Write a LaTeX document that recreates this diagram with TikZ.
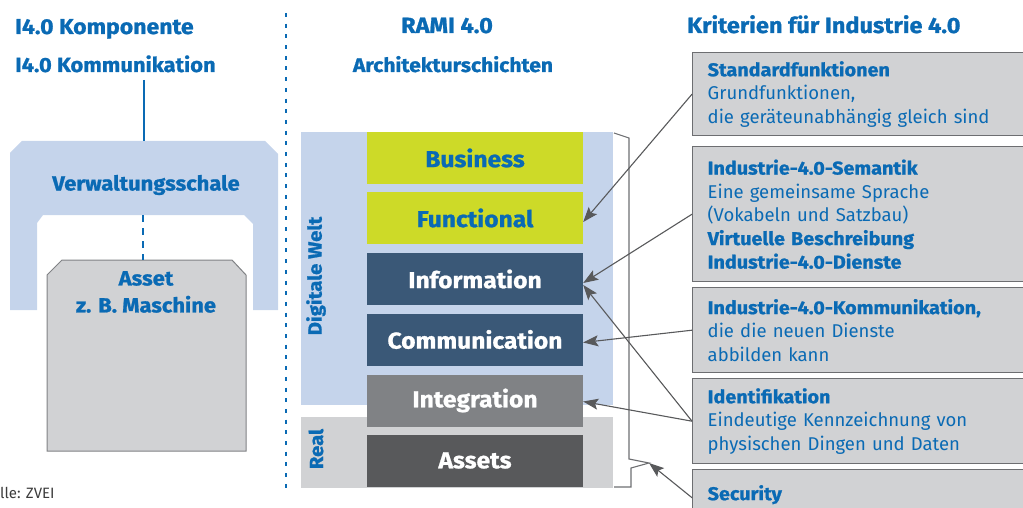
\documentclass[tikz,border=0pt]{standalone}
\usepackage{fontspec}
\setmainfont{Fira Sans}[BoldFeatures={FakeStretch=1.07,FakeBold=1}]
\usetikzlibrary{arrows.meta,calc}
\definecolor{ibl}{HTML}{0A6AB4}
\definecolor{lblue}{HTML}{C5D4EB}
\definecolor{lgray}{HTML}{D1D2D4}
\definecolor{ygreen}{HTML}{CDDA28}
\definecolor{slate}{HTML}{3A5877}
\definecolor{mgray}{HTML}{808285}
\definecolor{dgray}{HTML}{58595B}
\definecolor{bgray}{HTML}{6D6E71}
\definecolor{txtgray}{HTML}{3C3C3C}
\begin{document}
\begin{tikzpicture}[x=1pt,y=-1pt,
  title/.style={font=\fontsize{21}{25}\selectfont\bfseries, text=ibl, inner sep=0pt},
  layer/.style={rectangle, minimum width=216pt, minimum height=52pt, inner sep=0pt,
    font=\fontsize{23}{27}\selectfont\bfseries},
  crit/.style={rectangle, draw=bgray, line width=1.4pt, fill=lgray, anchor=north west,
    inner xsep=15pt, inner ysep=0pt, text width=330pt, align=left,
    font=\fontsize{18.5}{23.5}\selectfont, text=ibl},
  arr/.style={draw=dgray, line width=1.1pt, -{Stealth[length=15pt,width=11pt,inset=3pt]}},
  side/.style={font=\fontsize{19}{22}\selectfont\bfseries, text=ibl, rotate=90, inner sep=0pt}
]
\useasboundingbox (0,0) rectangle (1023,508);

% ---------- left column
\node[title, anchor=base west, font=\fontsize{21.5}{25}\selectfont\bfseries] (t1) at (15,34) {I4.0 Komponente};
\node[title, anchor=base west, font=\fontsize{20.5}{24}\selectfont\bfseries] (t2) at (15,72) {I4.0 Kommunikation};

\fill[lblue] (10,153) -- (22,141) -- (265,141) -- (278,154) -- (278,310) -- (253,310)
  -- (253,224) -- (244,215) -- (43,215) -- (37,223) -- (37,310) -- (10,310) -- cycle;
\coordinate (kt) at (144,80);
\coordinate (st) at (144,141);
\coordinate (si) at (143,215);
\draw[ibl, line width=2.6pt] (kt) -- (st);
\node[title, font=\fontsize{20.5}{26}\selectfont\bfseries] (vws) at (146,185) {Verwaltungsschale};

\filldraw[fill=lgray, draw=mgray, line width=1pt] (47,275) -- (62,260) -- (232,260) -- (246,275)
  -- (246,451) -- (47,451) -- cycle;
\coordinate (at) at (143,260);
\draw[ibl, line width=2.6pt, dash pattern=on 7pt off 6pt] (si) -- (at);
\node[title, align=center, font=\fontsize{20.5}{27}\selectfont\bfseries] (assettxt) at (146,292) {Asset\\z. B. Maschine};

\node[anchor=base west, inner sep=0pt, text=txtgray, font=\fontsize{15}{18}\selectfont] (src) at (0,498) {lle: ZVEI};

% divider
\draw[ibl, line width=2pt, dash pattern=on 4pt off 6.7pt] (286,13) -- (286,490);

% ---------- middle column
\node[title, anchor=base, font=\fontsize{22}{25}\selectfont\bfseries] (rami) at (447,33) {RAMI 4.0};
\node[title, anchor=base, font=\fontsize{19.7}{25}\selectfont\bfseries] (arch) at (453,72) {Architekturschichten};

\fill[lblue] (301,132) rectangle (613,405);
\fill[lgray] (301,417) rectangle (613,488);
\node[side] (dw) at (316,276) {Digitale Welt};
\node[side] (real) at (316,449) {Real};

\node[layer, fill=ygreen, text=ibl] (bus) at (475,158) {Business};
\node[layer, fill=ygreen, text=ibl] (fun) at (475,218) {Functional};
\node[layer, fill=slate, text=white] (inf) at (475,279) {Information};
\node[layer, fill=slate, text=white] (com) at (475,339.5) {Communication};
\node[layer, fill=mgray, text=white] (int) at (475,400.5) {Integration};
\node[layer, fill=dgray, text=white] (ass) at (475,460.5) {Assets};

% bracket
\coordinate (tip) at (649,463);
\draw[bgray, line width=1.1pt] (614,133) -- (629,138) -- (629,459) -- (tip) -- (631,468)
  -- (631,487) -- (614,487);

% ---------- right column
\node[title, anchor=base west, font=\fontsize{22}{25}\selectfont\bfseries] (krit) at (687,33) {Kriterien für Industrie 4.0};

\node[crit, minimum height=83pt] (b1) at (692,52)
  {\textbf{Standardfunktionen}\\Grundfunktionen,\\die geräteunabhängig gleich sind};
\node[crit, minimum height=135pt] (b2) at (692,146)
  {\textbf{Industrie-4.0-Semantik}\\Eine gemeinsame Sprache\\(Vokabeln und Satzbau)\\\textbf{Virtuelle Beschreibung}\\\textbf{Industrie-4.0-Dienste}};
\node[crit, minimum height=85pt] (b3) at (692,287)
  {\textbf{Industrie-4.0-Kommunikation,}\\die die neuen Dienste\\abbilden kann};
\node[crit, minimum height=85pt] (b4) at (692,378)
  {\textbf{Identifikation}\\Eindeutige Kennzeichnung von\\physischen Dingen und Daten};
\node[crit, minimum height=50pt] (b5) at (692,469)
  {\textbf{Security}};

% arrows
\draw[arr] (b1.west) -- ($(fun.east)+(0,4)$);
\draw[arr] (b2.west) -- ($(inf.east)+(0,4)$);
\draw[arr] (b3.west) -- ($(com.east)+(0,3)$);
\draw[arr] (b4.west) -- ($(int.east)+(0,1)$);
\draw[arr] (b4.west) -- ($(inf.east)+(0,6)$);
\draw[arr] ([yshift=-3pt]b5.west) -- (tip);
\end{tikzpicture}
\end{document}
